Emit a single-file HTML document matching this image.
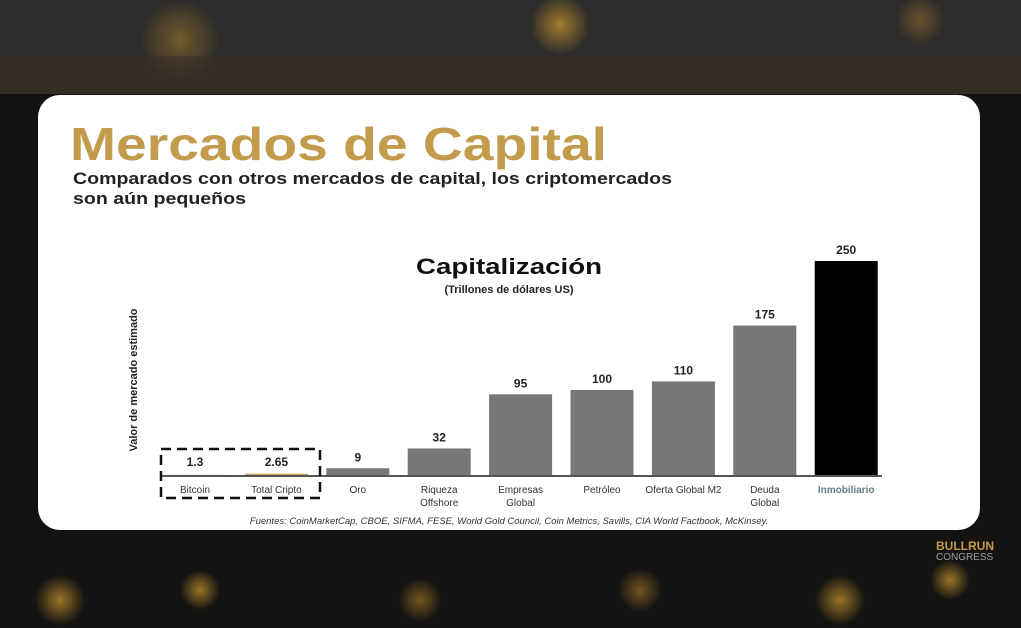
<!DOCTYPE html>
<html><head><meta charset="utf-8"><style>
html,body{margin:0;padding:0;width:1021px;height:628px;overflow:hidden;background:#121212;}
svg{display:block;font-family:"Liberation Sans",sans-serif;}
</style></head><body>
<svg width="1021" height="628" viewBox="0 0 1021 628">
<defs>
<radialGradient id="bk" cx="50%" cy="50%" r="50%"><stop offset="0" stop-color="#c8952e" stop-opacity="0.75"/><stop offset="1" stop-color="#c8952e" stop-opacity="0"/></radialGradient>
</defs>
<rect x="0" y="0" width="1021" height="56" fill="#2e2c2a"/>
<rect x="0" y="56" width="1021" height="572" fill="#141312"/>
<circle cx="560" cy="25" r="30" fill="url(#bk)"/>
<circle cx="180" cy="40" r="40" fill="url(#bk)" opacity="0.6"/>
<circle cx="920" cy="20" r="25" fill="url(#bk)" opacity="0.5"/>
<circle cx="60" cy="600" r="25" fill="url(#bk)"/>
<circle cx="200" cy="590" r="20" fill="url(#bk)"/>
<circle cx="420" cy="600" r="22" fill="url(#bk)" opacity="0.7"/>
<circle cx="640" cy="590" r="22" fill="url(#bk)" opacity="0.7"/>
<circle cx="840" cy="600" r="25" fill="url(#bk)"/>
<circle cx="950" cy="580" r="20" fill="url(#bk)"/>
<rect x="0" y="56" width="1021" height="38" fill="#4a4034" opacity="0.6"/>
<rect x="38" y="95" width="942" height="435" rx="22" fill="#ffffff"/>
<text x="70" y="160" font-size="46" font-weight="bold" fill="#c29b4c" textLength="537" lengthAdjust="spacingAndGlyphs">Mercados de Capital</text>
<text x="73" y="184" font-size="17" font-weight="bold" fill="#222" textLength="599" lengthAdjust="spacingAndGlyphs">Comparados con otros mercados de capital, los criptomercados</text>
<text x="73" y="204" font-size="17" font-weight="bold" fill="#222" textLength="173" lengthAdjust="spacingAndGlyphs">son aún pequeños</text>
<text x="509" y="274" font-size="22" font-weight="bold" fill="#111" text-anchor="middle" textLength="186" lengthAdjust="spacingAndGlyphs">Capitalización</text>
<text x="509" y="293" font-size="11" font-weight="bold" fill="#222" text-anchor="middle">(Trillones de dólares US)</text>
<text transform="translate(137,380) rotate(-90)" font-size="11" font-weight="bold" fill="#222" text-anchor="middle">Valor de mercado estimado</text>
<g id="chart"></g>
<rect x="161" y="449" width="159" height="49" fill="none" stroke="#111" stroke-width="2.5" stroke-dasharray="10,6"/>
<text x="509" y="524" font-size="9.5" font-style="italic" fill="#333" text-anchor="middle">Fuentes: CoinMarketCap, CBOE, SIFMA, FESE, World Gold Council, Coin Metrics, Savills, CIA World Factbook, McKinsey.</text>
<text x="936" y="550" font-size="12" font-weight="bold" fill="#c29b4c">BULLRUN</text>
<text x="936" y="560" font-size="10" fill="#9aa0a8">CONGRESS</text>
</svg>
<script>
const categories = ["Bitcoin","Total Cripto","Oro","Riqueza|Offshore","Empresas|Global","Petróleo","Oferta Global M2","Deuda|Global","Inmobiliario"];
const values = [1.3, 2.65, 9, 32, 95, 100, 110, 175, 250];
const valueLabels = ["1.3","2.65","9","32","95","100","110","175","250"];
const barColors = ["#7a7a7a","#c9a55a","#777","#777","#777","#777","#777","#777","#000"];
const NS="http://www.w3.org/2000/svg";
const g=document.getElementById('chart');
const base=476, x0=195, step=81.4, bw=63, maxV=250, maxH=215;
const xc=i=>x0+i*step;
const yv=v=>base-v/maxV*maxH;
function mk(t,a){const e=document.createElementNS(NS,t);for(const k in a)e.setAttribute(k,a[k]);g.appendChild(e);return e;}
values.forEach((v,i)=>{
  const y=yv(v);
  const r=mk('rect',{x:xc(i)-bw/2,y:y,width:bw,height:Math.max(base-y,0),fill:barColors[i]});
  
  
  const t=mk('text',{x:xc(i),y:(i<2? base-10 : y-7),'font-size':12,'font-weight':'bold',fill:'#222','text-anchor':'middle'});
  t.textContent=valueLabels[i];
  
  
  categories[i].split('|').forEach((ln,j)=>{
    const c=mk('text',{x:xc(i),y:base+17+j*13,'font-size':10,fill:i===8?'#5f7f86':'#333','font-weight':i===8?'bold':'normal','text-anchor':'middle'});
    c.textContent=ln;
    
    
  });
});
const ax=mk('line',{x1:160,y1:base,x2:882,y2:base,stroke:'#555','stroke-width':2});


</script>
</body></html>
